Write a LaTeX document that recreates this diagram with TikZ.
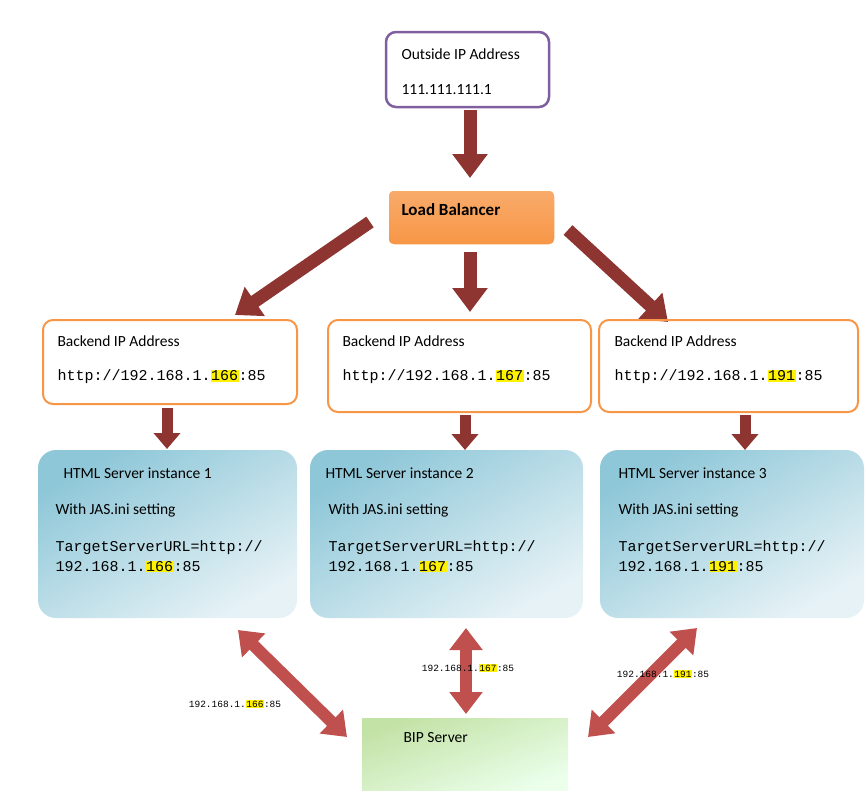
\documentclass[tikz,border=0pt]{standalone}
\usepackage{fontspec}
\setmainfont{Carlito}
\newfontfamily\monof{Liberation Mono}
\usetikzlibrary{arrows.meta,shadings}
\newcommand{\hl}[1]{{\setlength{\fboxsep}{0.5pt}\colorbox{yellow}{#1}}}
\definecolor{darr}{HTML}{8E3431}
\definecolor{larr}{HTML}{C0504D}
\definecolor{orng}{HTML}{F79646}
\definecolor{purp}{HTML}{7F5FA0}
\definecolor{teal1}{HTML}{8EC7D8}
\definecolor{teal2}{HTML}{E6F2F6}
\begin{document}
\begin{tikzpicture}[x=1pt,y=-1pt,
  box/.style={draw=orng,line width=2pt,rounded corners=10pt},
  srv/.style={rounded corners=18pt,top color=teal1,bottom color=teal2,shading angle=30},
  fat/.style={draw=darr,line width=13pt,-{Triangle[width=34pt,length=24pt]}},
  dbl/.style={draw=larr,line width=12pt,{Triangle[width=32pt,length=22pt]}-{Triangle[width=32pt,length=22pt]}},
  t/.style={anchor=west,font=\fontsize{15.5}{18}\selectfont},
  m/.style={anchor=west,font=\monof\fontsize{15}{20}\selectfont,align=left},
  s/.style={font=\monof\fontsize{9.5}{11}\selectfont}]
\useasboundingbox (0,0) rectangle (867,803);
% outside
\draw[purp,line width=2.5pt,rounded corners=10pt] (386,32) rectangle (549,107);
\node[t] (o1) at (398,54) {Outside IP Address};
\node[t] (o2) at (398,90) {111.111.111.1};
\coordinate (oa) at (470,110); \coordinate (ob) at (470,178);
\draw[fat] (oa) -- (ob);
% LB
\shade[rounded corners=6pt,top color=orng!80,bottom color=orng,draw=white,line width=1.5pt] (388,190) rectangle (555,245);
\node[t,font=\bfseries\fontsize{17}{19}\selectfont] (lb) at (398,210) {Load Balancer};
\coordinate (l1a) at (370,222); \coordinate (l1b) at (235,315);
\coordinate (l2a) at (470,252); \coordinate (l2b) at (470,312);
\coordinate (l3a) at (568,230); \coordinate (l3b) at (668,322);
\draw[fat] (l1a) -- (l1b);
\draw[fat] (l2a) -- (l2b);
\draw[fat] (l3a) -- (l3b);
% backend
\draw[box] (43,320) rectangle (297,404);
\draw[box] (328,320) rectangle (591,412);
\draw[box] (599,320) rectangle (858,412);
\node[t] (b1) at (54,341) {Backend IP Address};
\node[m] (u1) at (54,377) {http://192.168.1.\hl{166}:85};
\node[t] (b2) at (339,341) {Backend IP Address};
\node[m] (u2) at (339,377) {http://192.168.1.\hl{167}:85};
\node[t] (b3) at (611,341) {Backend IP Address};
\node[m] (u3) at (611,377) {http://192.168.1.\hl{191}:85};
\tikzset{sm/.style={draw=darr,line width=11pt,-{Triangle[width=26pt,length=16pt]}}}
\coordinate (s1a) at (167,408); \coordinate (s1b) at (167,449);
\coordinate (s2a) at (465,415); \coordinate (s2b) at (465,450);
\coordinate (s3a) at (745,415); \coordinate (s3b) at (745,450);
\draw[sm] (s1a) -- (s1b); \draw[sm] (s2a) -- (s2b); \draw[sm] (s3a) -- (s3b);
% servers
\shade[srv] (38,450) rectangle (297,618);
\shade[srv] (310,450) rectangle (583,618);
\shade[srv] (600,450) rectangle (864,618);
\node[t] (h1) at (60,473) {HTML Server instance 1};
\node[t] (j1) at (52,510) {With JAS.ini setting};
\node[m] (k1) at (52,556) {TargetServerURL=http://\\192.168.1.\hl{166}:85};
\node[t] (h2) at (322,473) {HTML Server instance 2};
\node[t] (j2) at (325,510) {With JAS.ini setting};
\node[m] (k2) at (325,556) {TargetServerURL=http://\\192.168.1.\hl{167}:85};
\node[t] (h3) at (615,473) {HTML Server instance 3};
\node[t] (j3) at (615,510) {With JAS.ini setting};
\node[m] (k3) at (615,556) {TargetServerURL=http://\\192.168.1.\hl{191}:85};
% BIP
\shade[top color=green!35!olive!35!white,bottom color=green!8!white,shading angle=20] (362,718) rectangle (568,790);
\node[t] (bip) at (400,738) {BIP Server};
\coordinate (d1a) at (238,630); \coordinate (d1b) at (347,737);
\coordinate (d2a) at (466,628); \coordinate (d2b) at (466,714);
\coordinate (d3a) at (697,628); \coordinate (d3b) at (588,737);
\draw[dbl] (d1a) -- (d1b); \draw[dbl] (d2a) -- (d2b); \draw[dbl] (d3a) -- (d3b);
\node[s] (x1) at (235,704) {192.168.1.\hl{166}:85};
\node[s] (x2) at (468,668) {192.168.1.\hl{167}:85};
\node[s] (x3) at (663,674) {192.168.1.\hl{191}:85};
\end{tikzpicture}
\end{document}
